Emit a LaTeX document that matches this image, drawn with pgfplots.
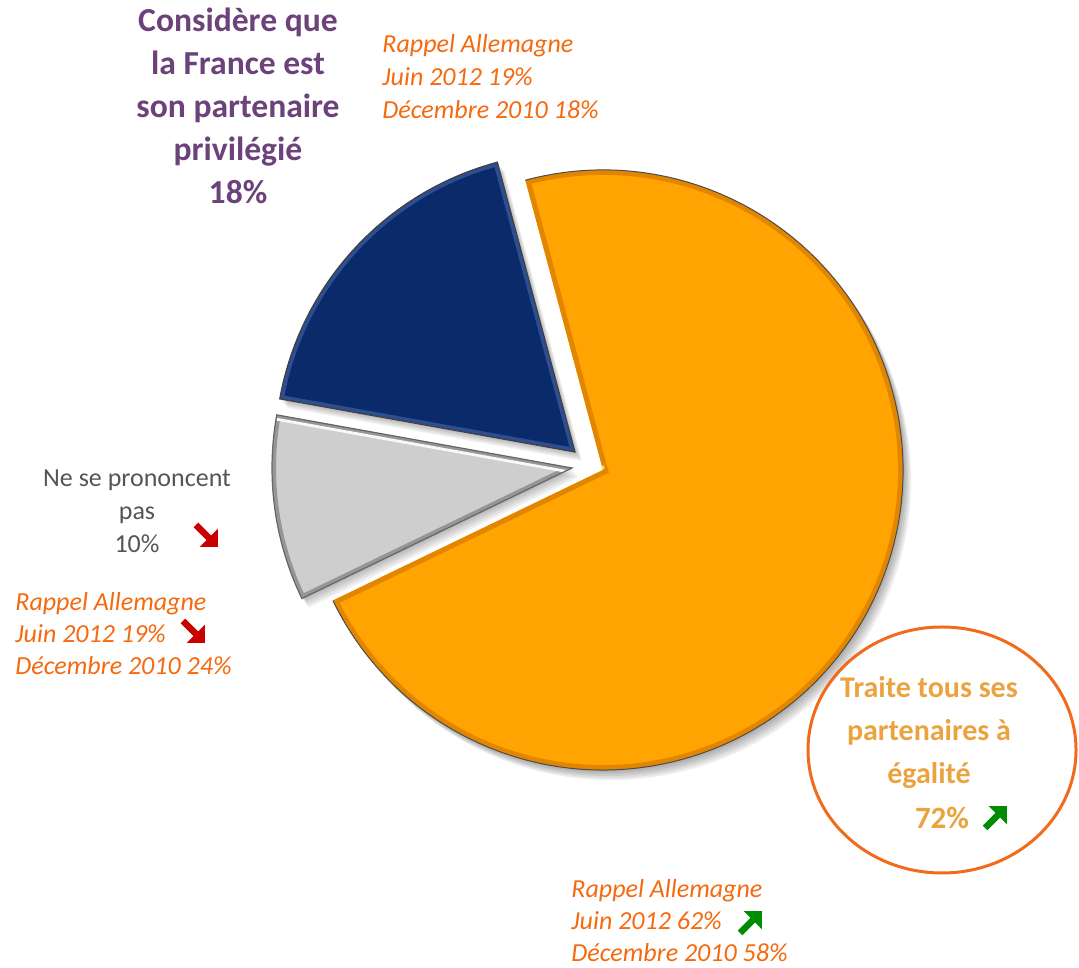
\documentclass[border=0pt]{standalone}
\usepackage{pgfplots}
\pgfplotsset{compat=1.18}
\usepackage{pgfplotstable}
\usepackage{fontspec}
\setmainfont{Carlito}
\usetikzlibrary{arrows.meta}

\definecolor{pieorange}{RGB}{255,164,0}
\definecolor{pieorangedark}{RGB}{226,134,0}
\definecolor{pieyellow}{RGB}{255,222,60}
\definecolor{pieblue}{RGB}{11,42,106}
\definecolor{piebluelight}{RGB}{45,78,145}
\definecolor{piegrey}{RGB}{206,206,206}
\definecolor{piegreydark}{RGB}{150,150,150}
\definecolor{titlepurple}{RGB}{108,66,122}
\definecolor{rappel}{RGB}{245,105,15}
\definecolor{greytxt}{RGB}{85,85,85}
\definecolor{circtxt}{RGB}{234,163,62}
\definecolor{circline}{RGB}{242,106,27}
\definecolor{arrred}{RGB}{200,0,0}
\definecolor{arrgreen}{RGB}{0,140,0}

\tikzset{arrw/.style={line width=3.2pt, -{Triangle[length=6.5pt,width=12.5pt]}}}

% shares of the pie, in percent
\pgfplotstableread{
part value
egalite 72
privilegie 18
nsp 10
}\piedata

\def\R{150pt}
\newcommand\pieslice[4]{(axis cs:#1,#2) -- ++(#3:\R) arc[start angle=#3, end angle=#4, radius=\R] -- cycle}

\begin{document}
\begin{tikzpicture}
\pgfplotstablegetelem{0}{value}\of\piedata \let\vEg\pgfplotsretval
\pgfplotstablegetelem{1}{value}\of\piedata \let\vPr\pgfplotsretval
\pgfplotstablegetelem{2}{value}\of\piedata \let\vNs\pgfplotsretval
\pgfmathsetmacro\aS{105}
\pgfmathsetmacro\aEg{\aS-3.6*\vEg}
\pgfmathsetmacro\aPr{\aS+3.6*\vPr}
\pgfmathsetmacro\aNs{\aPr+3.6*\vNs}
\begin{axis}[
    x=0.5pt, y=0.5pt,
    xmin=0, xmax=1079, ymin=0, ymax=967,
    enlargelimits=false,
    hide axis,
    clip=false,
]
\path (axis cs:0,0) rectangle (axis cs:1079,967);

% soft shadows
\pgfplotsinvokeforeach{1,2,3,4,5}{
  \fill[black, opacity=0.07, shift={(#1*0.8pt,-#1*1pt)}] \pieslice{603}{497}{\aS}{\aEg};
  \fill[black, opacity=0.06, shift={(#1*0.7pt,-#1*0.9pt)}] \pieslice{575}{515}{\aS}{\aPr};
  \fill[black, opacity=0.06, shift={(#1*0.7pt,-#1*0.9pt)}] \pieslice{572}{499}{\aPr}{\aNs};
}

% orange slice: treats all partners equally
\fill[pieorange] \pieslice{603}{497}{\aS}{\aEg};
\begin{scope}
  \clip \pieslice{603}{497}{\aS}{\aEg};
  \draw[pieorangedark, line width=5pt] \pieslice{603}{497}{\aS}{\aEg};
  \draw[pieyellow, line width=1.6pt, shift={(0.6pt,1.6pt)}] (axis cs:603,497) -- ++(\aEg:\R);
\end{scope}
\draw[black!70, line width=0.5pt] (axis cs:603,497) ++(\aS:\R) arc[start angle=\aS, end angle=\aEg, radius=\R];

% blue slice: France privileged partner
\fill[pieblue] \pieslice{575}{515}{\aS}{\aPr};
\begin{scope}
  \clip \pieslice{575}{515}{\aS}{\aPr};
  \draw[piebluelight, line width=4pt] \pieslice{575}{515}{\aS}{\aPr};
\end{scope}
\draw[black!75, line width=0.6pt] \pieslice{575}{515}{\aS}{\aPr};

% grey slice: no opinion
\fill[piegrey] \pieslice{572}{499}{\aPr}{\aNs};
\begin{scope}
  \clip \pieslice{572}{499}{\aPr}{\aNs};
  \draw[piegreydark, line width=4pt] \pieslice{572}{499}{\aPr}{\aNs};
  \draw[white!85!piegrey, line width=1.4pt, shift={(0pt,-2.2pt)}] (axis cs:572,499) -- ++(\aPr:\R);
\end{scope}
\draw[black!60, line width=0.6pt] \pieslice{572}{499}{\aPr}{\aNs};

% labels
\node[text=titlepurple, font=\bfseries\fontsize{16.8}{21.5}\selectfont, align=center]
  at (axis cs:238,861) {Considère que\\la France est\\son partenaire\\privilégié\\18\%};
\node[anchor=west, inner sep=0pt, align=left, text=rappel, font=\itshape\fontsize{13}{16.5}\selectfont]
  at (axis cs:382,890) {Rappel Allemagne\\Juin 2012 19\%\\Décembre 2010 18\%};
\node[text=greytxt, align=center, font=\fontsize{13}{16.5}\selectfont]
  at (axis cs:137,456) {Ne se prononcent\\pas\\10\%};
\node[anchor=west, inner sep=0pt, align=left, text=rappel, font=\itshape\fontsize{13}{16}\selectfont]
  at (axis cs:15,333) {Rappel Allemagne\\Juin 2012 19\%\\Décembre 2010 24\%};
\node[anchor=west, inner sep=0pt, align=left, text=rappel, font=\itshape\fontsize{13}{16}\selectfont]
  at (axis cs:571,46) {Rappel Allemagne\\Juin 2012 62\%\\Décembre 2010 58\%};

\draw[circline, line width=1.5pt] (axis cs:942,217) ellipse [x radius=67pt, y radius=61.5pt];
\node[text=circtxt, align=center, font=\bfseries\fontsize{15}{21.5}\selectfont]
  at (axis cs:929,234) {Traite tous ses\\partenaires à\\égalité};
\node[text=circtxt, font=\bfseries\fontsize{15.5}{21.5}\selectfont] at (axis cs:942,149) {72\%};

% trend arrows
\draw[arrw, arrred] (axis cs:196,442) -- (axis cs:218,420);
\draw[arrw, arrred] (axis cs:183,346) -- (axis cs:205,324);
\draw[arrw, arrgreen] (axis cs:985,139) -- (axis cs:1007,161);
\draw[arrw, arrgreen] (axis cs:740,34) -- (axis cs:762,56);
\end{axis}
\end{tikzpicture}
\end{document}
